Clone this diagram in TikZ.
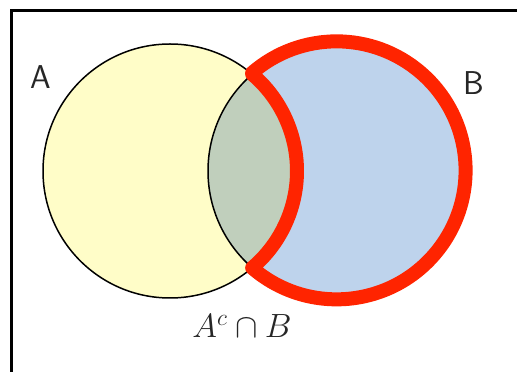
\documentclass[tikz,border=0pt]{standalone}
\usepackage{amsmath}
\usepackage{amssymb}
\usepackage{graphicx}
\usepackage{tikz}
\usetikzlibrary{positioning}
\usepackage{xcolor}
\definecolor{setAfill}{RGB}{255,253,200}
\definecolor{setBfill}{RGB}{190,211,236}
\definecolor{setABfill}{RGB}{192,207,188}
\definecolor{vennred}{RGB}{255,36,0}
\tikzstyle{setline}  = [draw=black, line width=1.5pt]
\tikzstyle{redline}  = [draw=vennred, line width=14pt, line join=round]
\tikzstyle{setlabel} = [font=\fontsize{33}{40}\selectfont\sffamily, text=black!85]

\begin{document}
\begin{tikzpicture}[x=1pt, y=1pt]
  \useasboundingbox (0,0) rectangle (517,372);

  % Frame (left and top edges)
  \draw[line width=3pt] (11.5,0) -- (11.5,361) -- (517,361);

  % Set centres
  \coordinate (ca) at (170,201);
  \coordinate (cb) at (336,201);

  % Fills
  \fill[setAfill] (ca) circle (127);
  \fill[setBfill] (cb) circle (128);
  \begin{scope}
    \clip (ca) circle (127);
    \fill[setABfill] (cb) circle (128);
  \end{scope}

  % Outlines
  \draw[setline] (ca) circle (127);
  \draw[setline] (cb) circle (128);

  % Highlighted region
  \draw[redline] (ca) ++(49.7:127)
        arc[start angle=49.7, end angle=-49.7, radius=127]
        arc[start angle=-130.9, end angle=130.9, radius=129] -- cycle;

  % Labels
  \node (labA) [setlabel] at (41,295) {A};
  \node (labB) [setlabel] at (474,289) {B};
  \node (labAcB) [text=black!85] at (242,46)
        {\scalebox{1.35}{\fontsize{24}{29}\selectfont$A^c \cap B$}};

\end{tikzpicture}
\end{document}
